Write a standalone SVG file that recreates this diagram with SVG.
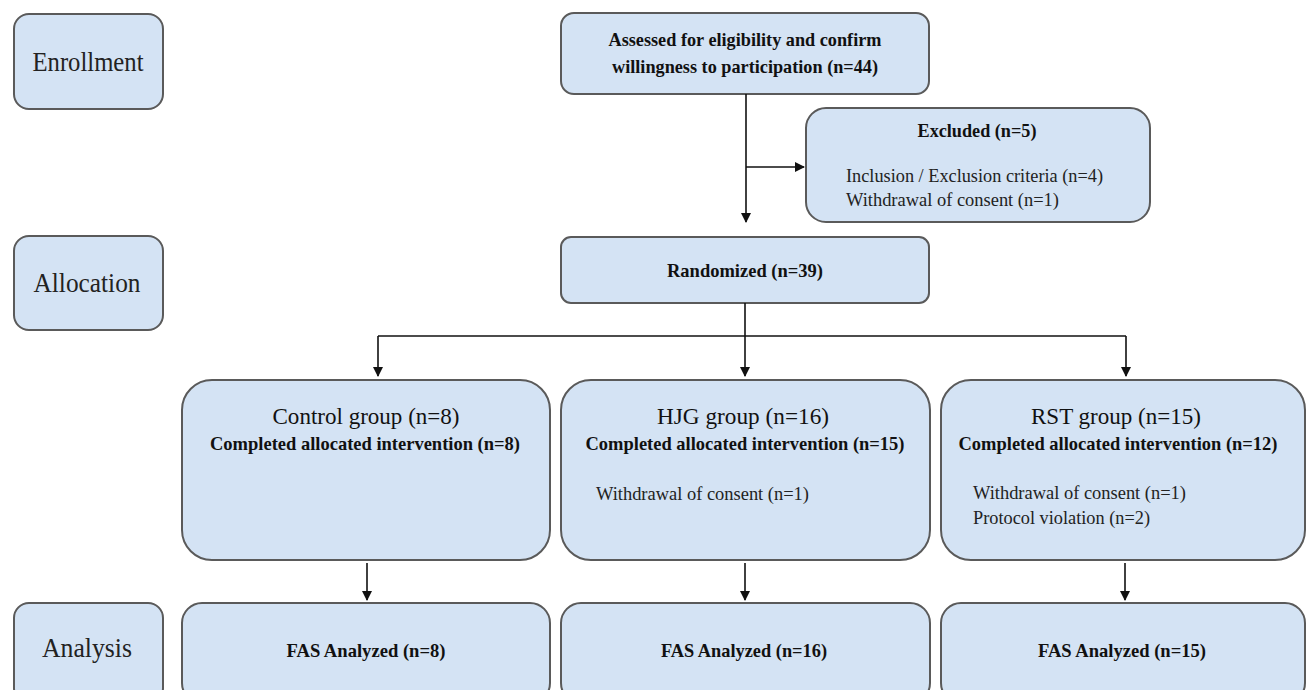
<svg xmlns="http://www.w3.org/2000/svg" width="1306" height="690" viewBox="0 0 1306 690" xml:space="preserve">
<defs>
<marker id="ah" markerWidth="10" markerHeight="12" refX="9" refY="5" orient="auto" markerUnits="userSpaceOnUse">
<path d="M0,0 L10,5 L0,10 Z" fill="#111"/>
</marker>
<style>
.box{fill:#d4e3f4;stroke:#5a5a5a;stroke-width:2}
.lbl{font-family:"Liberation Serif","Times New Roman",serif;font-size:28px;fill:#222;text-anchor:middle}
.b{font-family:"Liberation Serif","Times New Roman",serif;font-size:19px;font-weight:bold;fill:#111;text-anchor:middle}
.r{font-family:"Liberation Serif","Times New Roman",serif;font-size:24px;fill:#111;text-anchor:middle}
.s{font-family:"Liberation Serif","Times New Roman",serif;font-size:19px;fill:#222}
.ln{stroke:#111;stroke-width:1.6;fill:none}
</style>
</defs>
<rect width="1306" height="690" fill="#fff"/>

<g id="enrollment"><rect class="box" x="14" y="14" width="149" height="95" rx="15"/><text class="lbl" x="88" y="71" textLength="111" lengthAdjust="spacingAndGlyphs">Enrollment</text></g>
<g id="allocation"><rect class="box" x="14" y="236" width="149" height="94" rx="15"/><text class="lbl" x="87" y="292" textLength="107" lengthAdjust="spacingAndGlyphs">Allocation</text></g>
<g id="analysis"><rect class="box" x="14" y="603" width="149" height="100" rx="15"/><text class="lbl" x="87" y="657" textLength="90" lengthAdjust="spacingAndGlyphs">Analysis</text></g>

<g id="assessed"><rect class="box" x="561" y="13" width="368" height="81" rx="13"/>
<text class="b" x="745" y="46" textLength="273" lengthAdjust="spacingAndGlyphs">Assessed for eligibility and  confirm</text>
<text class="b" x="745" y="73" textLength="266" lengthAdjust="spacingAndGlyphs">willingness to participation  (n=44)</text></g>

<g id="excluded"><rect class="box" x="806" y="108" width="344" height="114" rx="20"/>
<text class="b" x="977" y="137" textLength="119" lengthAdjust="spacingAndGlyphs">Excluded  (n=5)</text>
<text class="s" x="846" y="182" textLength="257" lengthAdjust="spacingAndGlyphs">Inclusion / Exclusion criteria (n=4)</text>
<text class="s" x="846" y="206" textLength="213" lengthAdjust="spacingAndGlyphs">Withdrawal of consent (n=1)</text></g>

<g id="randomized"><rect class="box" x="561" y="237" width="368" height="66" rx="10"/>
<text class="b" x="745" y="277" textLength="156" lengthAdjust="spacingAndGlyphs">Randomized  (n=39)</text></g>

<g id="control"><rect class="box" x="182" y="380" width="368" height="180" rx="30"/>
<text class="r" x="366" y="424" textLength="187" lengthAdjust="spacingAndGlyphs">Control group (n=8)</text>
<text class="b" x="365" y="450" textLength="310" lengthAdjust="spacingAndGlyphs">Completed  allocated  intervention  (n=8)</text></g>

<g id="hjg"><rect class="box" x="561" y="380" width="369" height="180" rx="30"/>
<text class="r" x="743" y="424" textLength="172" lengthAdjust="spacingAndGlyphs">HJG group (n=16)</text>
<text class="b" x="745" y="450" textLength="319" lengthAdjust="spacingAndGlyphs">Completed  allocated  intervention  (n=15)</text>
<text class="s" x="596" y="500" textLength="213" lengthAdjust="spacingAndGlyphs">Withdrawal of consent (n=1)</text></g>

<g id="rst"><rect class="box" x="941" y="380" width="364" height="180" rx="30"/>
<text class="r" x="1116" y="424" textLength="170" lengthAdjust="spacingAndGlyphs">RST group (n=15)</text>
<text class="b" x="1118" y="450" textLength="319" lengthAdjust="spacingAndGlyphs">Completed  allocated  intervention  (n=12)</text>
<text class="s" x="973" y="499" textLength="213" lengthAdjust="spacingAndGlyphs">Withdrawal of consent (n=1)</text>
<text class="s" x="973" y="524" textLength="177" lengthAdjust="spacingAndGlyphs">Protocol violation (n=2)</text></g>

<g id="fas-control"><rect class="box" x="182" y="603" width="368" height="100" rx="20"/><text class="b" x="366" y="657" textLength="159" lengthAdjust="spacingAndGlyphs">FAS Analyzed  (n=8)</text></g>
<g id="fas-hjg"><rect class="box" x="561" y="603" width="369" height="100" rx="20"/><text class="b" x="744" y="657" textLength="166" lengthAdjust="spacingAndGlyphs">FAS Analyzed  (n=16)</text></g>
<g id="fas-rst"><rect class="box" x="941" y="603" width="364" height="100" rx="20"/><text class="b" x="1122" y="657" textLength="168" lengthAdjust="spacingAndGlyphs">FAS Analyzed  (n=15)</text></g>

<g id="connectors">
<line class="ln" x1="746" y1="94" x2="746" y2="222" marker-end="url(#ah)"/>
<line class="ln" x1="746" y1="167" x2="804" y2="167" marker-end="url(#ah)"/>
<line class="ln" x1="745" y1="303" x2="745" y2="336"/>
<line class="ln" x1="378" y1="336" x2="1126" y2="336"/>
<line class="ln" x1="378" y1="336" x2="378" y2="376" marker-end="url(#ah)"/>
<line class="ln" x1="745" y1="336" x2="745" y2="376" marker-end="url(#ah)"/>
<line class="ln" x1="1126" y1="336" x2="1126" y2="376" marker-end="url(#ah)"/>
<line class="ln" x1="367" y1="563" x2="367" y2="600" marker-end="url(#ah)"/>
<line class="ln" x1="745" y1="563" x2="745" y2="600" marker-end="url(#ah)"/>
<line class="ln" x1="1125" y1="563" x2="1125" y2="600" marker-end="url(#ah)"/>
</g>
</svg>
